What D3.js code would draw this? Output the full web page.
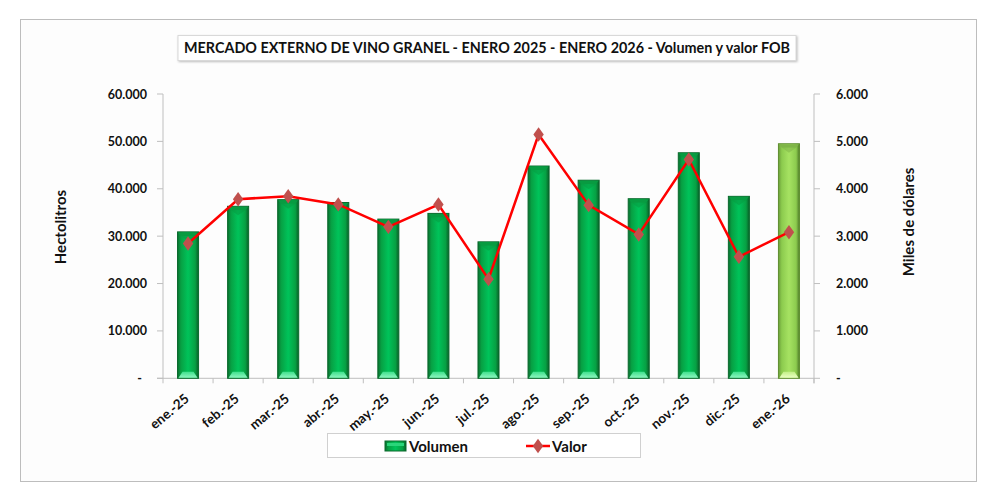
<!DOCTYPE html>
<html><head><meta charset="utf-8">
<script src="https://cdn.jsdelivr.net/npm/d3@7"></script>
<style>
html,body{margin:0;padding:0;background:#fff;}
text{font-family:Lato,"Open Sans",sans-serif;font-weight:bold;fill:#111;}
</style></head>
<body><svg id="c" width="1000" height="501"></svg>
<script>
const categories = ["ene.-25","feb.-25","mar.-25","abr.-25","may.-25","jun.-25","jul.-25","ago.-25","sep.-25","oct.-25","nov.-25","dic.-25","ene.-26"];
const volumen = [30900,36300,37700,37100,33600,34800,28800,44800,41800,37900,47600,38400,49500];
const valor = [2846,3780,3843,3670,3196,3668,2093,5144,3654,3036,4617,2564,3084];
const leftTicks = [0,10000,20000,30000,40000,50000,60000];
const rightTicks = [0,1000,2000,3000,4000,5000,6000];
const titleText = "MERCADO EXTERNO DE VINO GRANEL - ENERO 2025 - ENERO 2026 - Volumen y valor FOB";
const leftTitle = "Hectolitros";
const rightTitle = "Miles de dólares";
const legendLabels = ["Volumen","Valor"];

const svg = d3.select("#c");
const fmt = v => v === 0 ? "-" : d3.format(",.0f")(v).replace(/,/g,".");

// frame
svg.append("rect").attr("x",20.5).attr("y",19.5).attr("width",956).attr("height",462)
  .attr("fill","#fdfdfd").attr("stroke","#bdbdbd").attr("stroke-width",1);

const L = 163, R = 814, T = 94, B = 378.3;
const x = d3.scaleBand().domain(categories).range([L,R]).paddingInner(0.58).paddingOuter(0.29);
const xb = d3.scaleBand().domain(categories).range([L,R]);
const yL = d3.scaleLinear().domain([0,60000]).range([B,T]);
const yR = d3.scaleLinear().domain([0,6000]).range([B,T]);

const defs = svg.append("defs");
function grad(id, stops){
  const g = defs.append("linearGradient").attr("id",id).attr("x1","0").attr("x2","1").attr("y1","0").attr("y2","0");
  stops.forEach(s=>g.append("stop").attr("offset",s[0]).attr("stop-color",s[1]));
}
grad("gDark",[[0,"#0a6e30"],[0.16,"#07a043"],[0.5,"#00c35a"],[0.84,"#07a043"],[1,"#095e29"]]);
grad("gLight",[[0,"#6c9e3a"],[0.16,"#8ccb4e"],[0.5,"#a6e262"],[0.84,"#8ccb4e"],[1,"#4f7a28"]]);
function vgrad(id,a,b){
  const g = defs.append("linearGradient").attr("id",id).attr("x1","0").attr("x2","0").attr("y1","0").attr("y2","1");
  g.append("stop").attr("offset",0).attr("stop-color",a);
  g.append("stop").attr("offset",1).attr("stop-color",b);
}
vgrad("hlD","#3fe08d","#8ef5bf");
vgrad("hlL","#c2ef86","#eaffc4");

// title box
const tg = svg.append("g");
const tt = tg.append("text").attr("x",487).attr("y",53).attr("text-anchor","middle")
  .style("font-size","14.5px").text(titleText);
let tw = tt.node().getComputedTextLength();
if (tw > 0) { tt.attr("textLength",606).attr("lengthAdjust","spacingAndGlyphs"); tw = 606; }
tg.insert("rect","text").attr("x",487-tw/2-6).attr("y",35.5).attr("width",tw+12).attr("height",25)
  .attr("fill","#fff").attr("stroke","#d9d9d9").style("filter","drop-shadow(1px 1px 1px rgba(0,0,0,0.25))");

// axes
const axisCol = "#bfbfbf";
const ga = svg.append("g");
ga.append("line").attr("x1",L).attr("x2",L).attr("y1",T).attr("y2",B).attr("stroke",axisCol);
ga.append("line").attr("x1",R).attr("x2",R).attr("y1",T).attr("y2",B+5).attr("stroke",axisCol);
ga.append("line").attr("x1",L-6).attr("x2",R).attr("y1",B).attr("y2",B).attr("stroke",axisCol);
leftTicks.forEach(v=>{
  ga.append("line").attr("x1",L-6).attr("x2",L).attr("y1",yL(v)).attr("y2",yL(v)).attr("stroke",axisCol);
  ga.append("text").attr("x",v===0?142:147).attr("y",yL(v)+4.5).attr("text-anchor","end").style("font-size","12.5px").text(fmt(v));
});
rightTicks.forEach(v=>{
  ga.append("line").attr("x1",R).attr("x2",R+6).attr("y1",yR(v)).attr("y2",yR(v)).attr("stroke",axisCol);
  ga.append("text").attr("x",836).attr("y",yR(v)+4.5).attr("text-anchor","start").style("font-size","12.5px").text(fmt(v));
});
categories.forEach(c=>{
  const bx = xb(c);
  ga.append("line").attr("x1",bx).attr("x2",bx).attr("y1",B).attr("y2",B+5).attr("stroke",axisCol);
});
ga.append("line").attr("x1",R).attr("x2",R).attr("y1",B).attr("y2",B+5).attr("stroke",axisCol);

// x labels
categories.forEach(c=>{
  const cx = x(c)+x.bandwidth()/2;
  ga.append("text").attr("text-anchor","end").style("font-size","13.5px")
    .attr("transform",`translate(${cx+2},${B+22}) rotate(-40)`).text(c);
});

// axis titles
svg.append("text").attr("transform",`translate(66,227) rotate(-90)`).attr("text-anchor","middle").style("font-size","15px").text(leftTitle);
svg.append("text").attr("transform",`translate(914,222) rotate(-90)`).attr("text-anchor","middle").style("font-size","15px").text(rightTitle);

// bars
function drawBar(g, bx, by, bw, bh, light){
  const edge = light ? "#5f8f30" : "#0b6a2d";
  const top = light ? "#7fb548" : "#089b41";
  g.append("rect").attr("x",bx).attr("y",by).attr("width",bw).attr("height",bh)
    .attr("fill",`url(#${light?"gLight":"gDark"})`).attr("stroke",edge).attr("stroke-width",1);
  g.append("path").attr("d",`M${bx+0.5},${by+0.5} L${bx+bw-0.5},${by+0.5} L${bx+bw-3.5},${by+4} L${bx+3.5},${by+4} Z`).attr("fill",top);
  g.append("path").attr("d",`M${bx+3.5},${by+4} L${bx+bw-3.5},${by+4} L${bx+bw/2},${by+9} Z`).attr("fill",top).attr("opacity",0.55);
  const hb = B-0.5, hh = 6;
  g.append("path").attr("d",`M${bx+1},${hb} L${bx+5},${hb-hh} L${bx+bw-5},${hb-hh} L${bx+bw-1},${hb} Z`)
    .attr("fill",`url(#${light?"hlL":"hlD"})`);
}
const gb = svg.append("g");
volumen.forEach((v,i)=>{
  const c = categories[i];
  drawBar(gb, x(c), yL(v), x.bandwidth(), B-yL(v), i===categories.length-1);
});

// line
const line = d3.line().x((d,i)=>x(categories[i])+x.bandwidth()/2).y(d=>yR(d));
svg.append("path").datum(valor).attr("d",line).attr("fill","none").attr("stroke","#ff0000").attr("stroke-width",2.5);
const dia = d3.symbol().type(d3.symbolDiamond).size(60);
svg.selectAll(".mk").data(valor).enter().append("path")
  .attr("transform",(d,i)=>`translate(${x(categories[i])+x.bandwidth()/2},${yR(d)}) scale(1.25,1)`)
  .attr("d",dia).attr("fill","#c0504d");

// legend
const lg = svg.append("g");
lg.append("rect").attr("x",327.5).attr("y",433.5).attr("width",313).attr("height",24).attr("fill","#fff").attr("stroke","#d0d0d0");
lg.append("rect").attr("x",385).attr("y",441).attr("width",21).attr("height",10).attr("fill","url(#gDark)").attr("stroke","#0b6a2d");
lg.append("rect").attr("x",387).attr("y",443).attr("width",17).attr("height",3).attr("fill","#2bd57a");
lg.append("text").attr("x",409).attr("y",451.5).style("font-size","15px").text(legendLabels[0]);
lg.append("line").attr("x1",526).attr("x2",550).attr("y1",446).attr("y2",446).attr("stroke","#ff0000").attr("stroke-width",2.5);
lg.append("path").attr("transform","translate(538,446) scale(1.25,1)").attr("d",dia).attr("fill","#c0504d");
lg.append("text").attr("x",552).attr("y",451.5).style("font-size","15px").text(legendLabels[1]);
</script></body></html>
